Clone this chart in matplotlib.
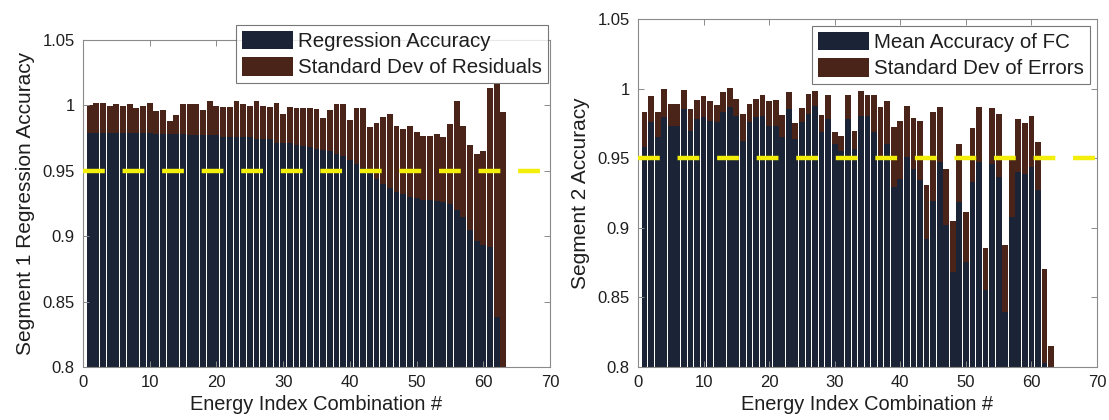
import matplotlib
matplotlib.use("Agg")
import matplotlib.pyplot as plt
import numpy as np

plt.rcParams['font.family'] = ['Liberation Sans', 'DejaVu Sans']

# ---------------- data ----------------
combo_index = list(range(1, 64))

seg1_accuracy = [
    0.979, 0.979, 0.979, 0.979, 0.979, 0.979, 0.979, 0.979, 0.979, 0.979,
    0.978, 0.978, 0.978, 0.978, 0.978, 0.977, 0.977, 0.977, 0.977, 0.977,
    0.976, 0.976, 0.976, 0.976, 0.976, 0.974, 0.974, 0.974, 0.971, 0.971,
    0.971, 0.970, 0.969, 0.968, 0.967, 0.966, 0.965, 0.963, 0.961, 0.958,
    0.955, 0.952, 0.948, 0.944, 0.940, 0.937, 0.934, 0.932, 0.930, 0.929,
    0.928, 0.928, 0.927, 0.926, 0.925, 0.920, 0.915, 0.905, 0.896, 0.893,
    0.892, 0.838, 0.790]

seg1_acc_plus_std = [
    1.0003, 1.0016, 1.0016, 0.9998, 1.0008, 0.9998, 1.0008, 0.9982, 0.9998, 1.0016,
    0.9960, 0.9968, 0.9883, 0.9927, 1.0008, 1.0008, 1.0008, 0.9968, 1.0036, 0.9998,
    0.9988, 0.9988, 1.0036, 1.0008, 0.9998, 1.0036, 0.9998, 0.9988, 1.0021, 0.9932,
    0.9990, 0.9983, 0.9978, 0.9983, 0.9970, 0.9901, 0.9965, 1.0008, 1.0008, 0.9888,
    0.9983, 0.9983, 0.9832, 0.9868, 0.9914, 0.9934, 0.9843, 0.9822, 0.9845, 0.9794,
    0.9766, 0.9766, 0.9779, 0.9756, 0.9858, 1.0036, 0.9845, 0.9697, 0.9628, 0.9654,
    1.0136, 1.0164, 0.9947]

seg2_accuracy = [
    0.9578, 0.9757, 0.9650, 0.9793, 0.9734, 0.9734, 0.9853, 0.9698, 0.9781, 0.9793,
    0.9769, 0.9757, 0.9829, 0.9865, 0.9805, 0.9626, 0.9757, 0.9793, 0.9805, 0.9734,
    0.9734, 0.9650, 0.9853, 0.9638, 0.9757, 0.9817, 0.9877, 0.9686, 0.9781, 0.9602,
    0.9554, 0.9781, 0.9566, 0.9805, 0.9805, 0.9686, 0.9495, 0.9602, 0.9292, 0.9352,
    0.9507, 0.9423, 0.9340, 0.8922, 0.9196, 0.9471, 0.9017, 0.8683, 0.9184, 0.8755,
    0.9327, 0.9471, 0.8552, 0.9459, 0.9363, 0.8396, 0.9077, 0.9399, 0.9388, 0.9435,
    0.9268, 0.8030, 0.7950]

seg2_acc_plus_std = [
    0.9834, 0.9944, 0.9834, 0.9996, 0.9886, 0.9886, 0.9987, 0.9853, 0.9917, 0.9944,
    0.9908, 0.9882, 0.9972, 1.0001, 0.9927, 0.9817, 0.9886, 0.9927, 0.9956, 0.9908,
    0.9917, 0.9808, 0.9972, 0.9753, 0.9858, 0.9963, 0.9982, 0.9808, 0.9956, 0.9688,
    0.9662, 0.9956, 0.9698, 0.9984, 0.9956, 0.9956, 0.9865, 0.9912, 0.9727, 0.9765,
    0.9872, 0.9786, 0.9765, 0.9305, 0.9829, 0.9865, 0.9423, 0.9046, 0.9602, 0.9113,
    0.9715, 0.9865, 0.8855, 0.9861, 0.9817, 0.8879, 0.9507, 0.9782, 0.9753, 0.9806,
    0.9614, 0.8702, 0.8153]

threshold = 0.95

x_ticks = [0, 10, 20, 30, 40, 50, 60, 70]
y_ticks = [0.8, 0.85, 0.9, 0.95, 1.0, 1.05]
y_tick_labels = ['0.8', '0.85', '0.9', '0.95', '1', '1.05']

# ---------------- style ----------------
DARK = '#1b2336'
BROWN = '#4a2419'
YELLOW = '#f3ee0a'
SPINE = '#8a8a8a'
TXT = '#1e1e1e'

W, H = 1109, 420
fig = plt.figure(figsize=(W / 100, H / 100), dpi=100)

def px_axes(x0, x1, ytop, ybot):
    return fig.add_axes([x0 / W, 1 - ybot / H, (x1 - x0) / W, (ybot - ytop) / H])

ax1 = px_axes(83, 550, 40, 367)
ax2 = px_axes(638, 1097, 19, 367)

def draw(ax, acc, top, ylab, labels, legend_anchor):
    h_top = ax.bar(combo_index, top, width=0.88, color=BROWN, edgecolor='none')
    h_acc = ax.bar(combo_index, acc, width=0.88, color=DARK, edgecolor='none')
    ax.axhline(threshold, color=YELLOW, lw=3.2, dashes=(4.9, 4.0), zorder=3)
    ax.set_xlim(0, 70)
    ax.set_ylim(0.8, 1.05)
    ax.set_xticks(x_ticks)
    ax.set_yticks(y_ticks)
    ax.set_yticklabels(y_tick_labels)
    ax.tick_params(direction='in', length=4, width=0.7, color=SPINE,
                   labelsize=12, labelcolor=TXT, top=True, right=True, pad=6)
    for s in ax.spines.values():
        s.set_color(SPINE)
        s.set_linewidth(0.8)
    ax.set_xlabel('Energy Index Combination #', fontsize=14.4, color=TXT, labelpad=3)
    ax.set_ylabel(ylab, fontsize=15, color=TXT, labelpad=5)
    leg = ax.legend([h_acc, h_top], labels, loc='upper right',
                    bbox_to_anchor=legend_anchor, bbox_transform=fig.transFigure,
                    borderaxespad=0, fontsize=14.8, frameon=True, fancybox=False,
                    handlelength=2.5, handleheight=1.0, handletextpad=0.25,
                    labelspacing=0.3, borderpad=0.28)
    leg.get_frame().set_edgecolor('#555555')
    leg.get_frame().set_linewidth(0.8)
    for t in leg.get_texts():
        t.set_color(TXT)

draw(ax1, seg1_accuracy, seg1_acc_plus_std, 'Segment 1 Regression Accuracy',
     ['Regression Accuracy', 'Standard Dev of Residuals'], (548 / W, 1 - 25 / H))
draw(ax2, seg2_accuracy, seg2_acc_plus_std, 'Segment 2 Accuracy',
     ['Mean Accuracy of FC', 'Standard Dev of Errors'], (1090 / W, 1 - 26 / H))

fig.savefig('out.png', dpi=100)
